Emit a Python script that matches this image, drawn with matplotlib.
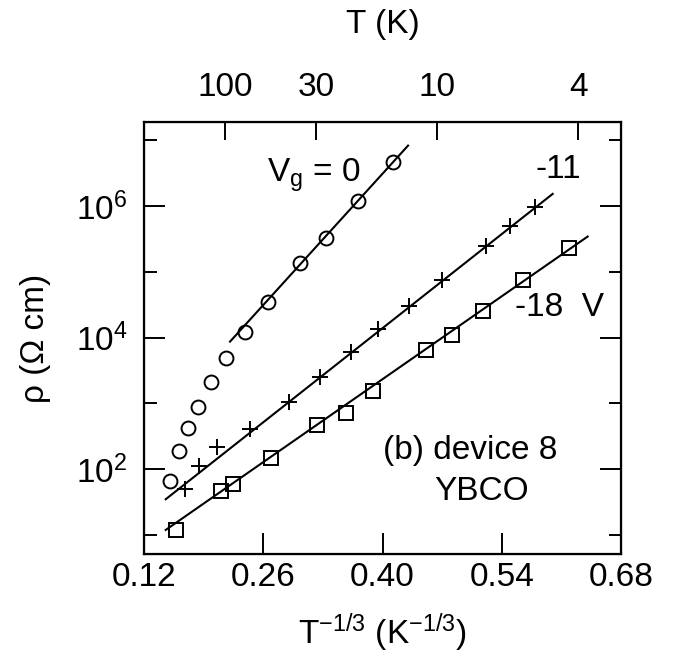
import numpy as np
import matplotlib
matplotlib.use("Agg")
import matplotlib.pyplot as plt
from matplotlib.ticker import FixedLocator, NullFormatter

plt.rcParams["font.family"] = ["Liberation Sans", "DejaVu Sans"]
plt.rcParams["mathtext.fontset"] = "custom"
plt.rcParams["mathtext.rm"] = "Liberation Sans"
plt.rcParams["mathtext.it"] = "Liberation Sans"

# %%
# V_g = 0 (circles)
x_v0 = [0.1506, 0.1612, 0.1714, 0.1832, 0.1985, 0.2161, 0.2380, 0.2659,
        0.3035, 0.3333, 0.3714, 0.4126]
rho_v0 = [65.7, 188, 426, 887, 2090, 4940, 12160, 35200,
          1.35e5, 3.24e5, 1.20e6, 4.66e6]
# V_g = -11 V (plus)
x_v11 = [0.1682, 0.1851, 0.2062, 0.2447, 0.2898, 0.3271, 0.3632, 0.3945,
         0.4309, 0.4694, 0.5215, 0.5498, 0.5792]
rho_v11 = [49, 112, 218, 402, 1057, 2540, 5970, 13300,
           30300, 75300, 2.50e5, 5.00e5, 9.62e5]
# V_g = -18 V (squares)
x_v18 = [0.1576, 0.2102, 0.2244, 0.2691, 0.3232, 0.3573, 0.3891, 0.4514,
         0.4820, 0.5176, 0.5644, 0.6192]
rho_v18 = [11.8, 46.8, 59.1, 149, 468, 719, 1556, 6470,
           10970, 25600, 76000, 2.31e5]

# fitted straight lines (end points)
fit_x_v0 = [0.221, 0.430]
fit_rho_v0 = [8.67e3, 8.34e6]
fit_x_v11 = [0.1455, 0.5998]
fit_rho_v11 = [34.6, 1.535e6]
fit_x_v18 = [0.1455, 0.6408]
fit_rho_v18 = [11.8, 3.44e5]

top_T = [100, 30, 10, 4]

# %%
fs = 24
fig = plt.figure(figsize=(6.77, 6.66), dpi=100)
ax = fig.add_axes([0.2127, 0.1682, 0.7046, 0.6486])

mk = dict(linestyle="none", mfc="none", mec="black", mew=1.4, color="black")
ax.plot(x_v0, rho_v0, marker="o", markersize=10, **mk)
ax.plot(x_v11, rho_v11, marker="+", markersize=11, **mk)
ax.plot(x_v18, rho_v18, marker="s", markersize=9.5, **mk)

for fx, fr in [(fit_x_v0, fit_rho_v0), (fit_x_v11, fit_rho_v11), (fit_x_v18, fit_rho_v18)]:
    ax.plot(fx, fr, color="black", lw=1.5)

ax.set_yscale("log")
ax.set_xlim(0.12, 0.68)
ax.set_ylim(10 ** 0.706, 10 ** 7.28)
ax.set_xticks([0.12, 0.26, 0.40, 0.54, 0.68])
ax.set_xticklabels(["0.12", "0.26", "0.40", "0.54", "0.68"])
ax.yaxis.set_major_locator(FixedLocator([1e2, 1e4, 1e6]))
ax.yaxis.set_minor_locator(FixedLocator([1e1, 1e3, 1e5, 1e7]))
ax.yaxis.set_minor_formatter(NullFormatter())
ax.set_yticklabels([r"$10^2$", r"$10^4$", r"$10^6$"])

ax.tick_params(axis="both", which="major", direction="in", length=15, width=1.4,
               labelsize=fs)
ax.tick_params(axis="x", which="major", pad=6)
ax.tick_params(axis="y", which="major", pad=12)
ax.tick_params(axis="y", which="both", right=True)
ax.tick_params(axis="y", which="minor", direction="in", length=9, width=1.4)
ax.tick_params(axis="x", which="both", top=False)
for s in ax.spines.values():
    s.set_linewidth(1.6)

ax.set_xlabel(r"T$^{\mathregular{-1/3}}$ (K$^{\mathregular{-1/3}}$)", fontsize=fs, labelpad=13)
ax.set_ylabel(r"ρ (Ω cm)", fontsize=fs, labelpad=18)

# top axis in T
top = ax.twiny()
top.set_xlim(ax.get_xlim())
top.set_xticks([t ** (-1 / 3) for t in top_T])
top.set_xticklabels([str(t) for t in top_T])
top.tick_params(axis="x", direction="in", length=13, width=1.4, labelsize=fs, pad=14)
top.set_xlabel("T (K)", fontsize=fs, labelpad=28)

ax.text(0.320, 3.0e6, r"V$_{\mathregular{g}}$ = 0", fontsize=fs, ha="center", va="center")
ax.text(0.606, 3.56e6, "-11", fontsize=fs, ha="center", va="center")
ax.text(0.608, 2.82e4, "-18  V", fontsize=fs, ha="center", va="center")
ax.text(0.5035, 188, "(b) device 8", fontsize=fs, ha="center", va="center")
ax.text(0.5165, 46, "YBCO", fontsize=fs, ha="center", va="center")

fig.savefig("out.png", dpi=100)
